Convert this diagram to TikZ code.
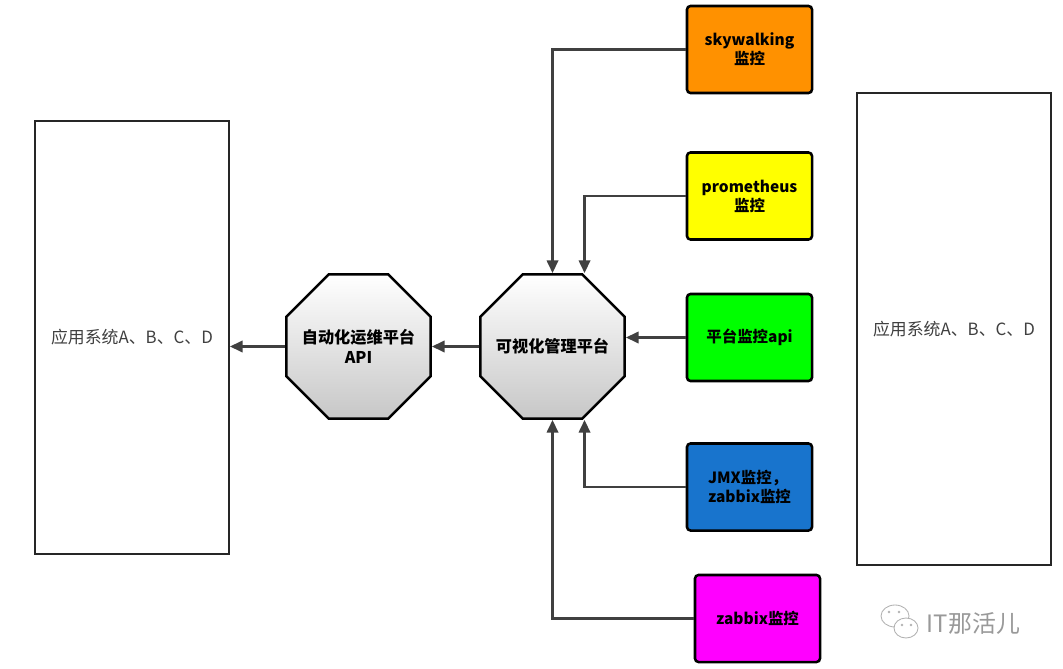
\documentclass[tikz,border=0pt]{standalone}
\usepackage{fontspec}
\setmainfont{Noto Sans CJK SC}
\usetikzlibrary{arrows.meta,shapes.geometric}
\definecolor{monorange}{RGB}{255,145,0}
\definecolor{monyellow}{RGB}{255,255,0}
\definecolor{mongreen}{RGB}{0,255,0}
\definecolor{monblue}{RGB}{24,116,205}
\definecolor{monmagenta}{RGB}{255,0,255}
\definecolor{linkgray}{RGB}{64,64,64}

\begin{document}
\begin{tikzpicture}[x=0.025cm, y=-0.025cm,
  font=\fontsize{11pt}{13.5pt}\selectfont,
  monbox/.style={draw=black, line width=1.8pt, rounded corners=2.5pt,
    minimum width=3.125cm, minimum height=2.175cm, inner sep=2pt,
    font=\fontsize{11pt}{13.5pt}\selectfont\bfseries},
  platform/.style={regular polygon, regular polygon sides=8, minimum size=3.9cm,
    draw=black, line width=1.8pt, top color=white, bottom color=black!22,
    align=center, inner sep=-8pt, font=\fontsize{11.5pt}{14pt}\selectfont\bfseries},
  appbox/.style={draw=black!85, line width=1.2pt, minimum width=4.85cm, text=black!75,
    font=\fontsize{12pt}{14pt}\selectfont},
  link/.style={draw=linkgray, line width=1.8pt, -{Triangle[length=9pt,width=8pt]}}]
  \fill[white] (0,0) rectangle (1063,669);
  \useasboundingbox (0,0) rectangle (1063,669);

  % application systems
  \node[appbox, minimum height=10.825cm] (appL) at (132,337.5) {应用系统A、B、C、D};
  \node[appbox, minimum height=11.8cm] (appR) at (954,329) {应用系统A、B、C、D};

  % platforms
  \node[platform] (ops) at (358.5,346.5) {自动化运维平台\\API};
  \node[platform] (vis) at (552.5,346.5) {可视化管理平台};

  % monitoring sources
  \node[monbox, fill=monorange, align=center] (sky) at (749.5,49.5) {skywalking\\监控};
  \node[monbox, fill=monyellow, align=center] (prom) at (749.5,196) {prometheus\\监控};
  \node[monbox, fill=mongreen] (api) at (749.5,337.5) {平台监控api};
  \node[monbox, fill=monblue, align=left] (jmx) at (749.5,487) {JMX监控，\\zabbix监控};
  \node[monbox, fill=monmagenta] (zab) at (757.5,618.5) {zabbix监控};

  \draw[link] (sky.west) -| (vis.north);
  \draw[link] (prom.west) -| ([xshift=0.8cm]vis.north);
  \draw[link] (api.west) -- (api.west -| vis.east);
  \draw[link] (jmx.west) -| ([xshift=0.8cm]vis.south);
  \draw[link] (zab.west) -| (vis.south);
  \draw[link] (vis.west) -- (ops.east);
  \draw[link] (ops.west) -- (ops.west -| appL.east);

  % watermark
  \draw[black!30, fill=white, line width=0.6pt] (895,616) ellipse (14 and 11);
  \draw[black!30, fill=white, line width=0.6pt] (906,628) ellipse (12 and 10);
  \foreach \dx in {889,899} \fill[black!30] (\dx,612) circle (1.3);
  \foreach \dx in {902,911} \fill[black!30] (\dx,625) circle (1.3);
  \node[text=black!40, font=\fontsize{17pt}{17pt}\selectfont, anchor=west] (mark) at (922,623) {IT那活儿};
\end{tikzpicture}
\end{document}
